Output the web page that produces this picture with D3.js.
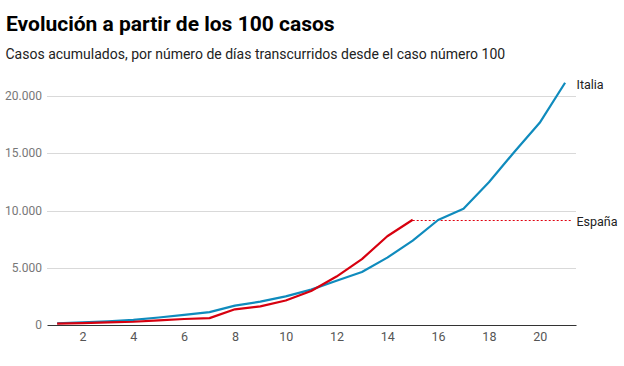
<!DOCTYPE html>
<html>
<head>
<meta charset="utf-8">
<script src="https://cdn.jsdelivr.net/npm/d3@7"></script>
<style>
  body { margin: 0; background: #fff; font-family: Roboto, "Noto Sans", sans-serif; }
  svg { display: block; }
</style>
</head>
<body>
<div id="chart"></div>
<script>
// datos: casos acumulados por día desde el caso 100
const days = d3.range(1, 22);
const italia = [155, 229, 322, 453, 655, 888, 1128, 1694, 2036, 2502, 3089, 3858, 4636, 5883, 7375, 9172, 10149, 12462, 15113, 17660, 21157];
const espana = [120, 165, 228, 282, 401, 525, 600, 1370, 1622, 2140, 2965, 4231, 5753, 7753, 9191];
const xTicks = [2, 4, 6, 8, 10, 12, 14, 16, 18, 20];
const yTicks = [0, 5000, 10000, 15000, 20000];

const W = 624, H = 366;
const fmt = d => d3.format(",")(d).replace(/,/g, ".");

const svg = d3.select('#chart').append('svg')
  .attr('width', W).attr('height', H);

// título y subtítulo
svg.append('text')
  .attr('x', 6).attr('y', 31)
  .attr('font-size', 21).attr('font-weight', 700)
  .attr('fill', '#000')
  .text('Evolución a partir de los 100 casos');

svg.append('text')
  .attr('x', 5.5).attr('y', 59)
  .attr('font-size', 14)
  .attr('fill', '#222')
  .text('Casos acumulados, por número de días transcurridos desde el caso número 100');

const x = d3.scaleLinear().domain([0.6, 21.43]).range([47, 576]);
const y = d3.scaleLinear().domain([0, 20000]).range([325, 96]);

// rejilla horizontal
svg.append('g')
  .selectAll('line')
  .data(yTicks.filter(d => d > 0))
  .join('line')
  .attr('x1', 47).attr('x2', 576)
  .attr('y1', d => Math.round(y(d)) + 0.5).attr('y2', d => Math.round(y(d)) + 0.5)
  .attr('stroke', '#d9d9d9').attr('stroke-width', 1);

// etiquetas eje y
svg.append('g')
  .selectAll('text')
  .data(yTicks)
  .join('text')
  .attr('x', 42).attr('y', d => y(d))
  .attr('dy', '0.35em')
  .attr('text-anchor', 'end')
  .attr('font-size', 12)
  .attr('fill', '#777')
  .text(fmt);

// eje x
const xAxis = svg.append('g')
  .attr('transform', `translate(0,${y(0)})`)
  .call(d3.axisBottom(x).tickValues(xTicks).tickSize(0).tickPadding(7));
xAxis.select('.domain').attr('stroke', '#333').attr('stroke-width', 1.2);
xAxis.selectAll('text')
  .attr('font-family', 'Roboto, sans-serif')
  .attr('font-size', 12.5)
  .attr('fill', '#555');

const line = d3.line()
  .x((d, i) => x(days[i]))
  .y(d => y(d));

// línea punteada de referencia para España
const lastEs = espana[espana.length - 1];
const yEs = Math.round(y(lastEs)) + 0.5;
svg.append('line')
  .attr('x1', x(espana.length)).attr('x2', 572)
  .attr('y1', yEs).attr('y2', yEs)
  .attr('stroke', '#e0000f').attr('stroke-width', 1)
  .attr('stroke-dasharray', '2 2');

svg.append('path')
  .datum(italia)
  .attr('d', line)
  .attr('fill', 'none')
  .attr('stroke', '#0f8bbd')
  .attr('stroke-width', 2.2)
  .attr('stroke-linejoin', 'round');

svg.append('path')
  .datum(espana)
  .attr('d', line)
  .attr('fill', 'none')
  .attr('stroke', '#d7000f')
  .attr('stroke-width', 2.2)
  .attr('stroke-linejoin', 'round');

// etiquetas de serie
svg.append('text')
  .attr('x', 576.5).attr('y', y(italia[italia.length - 1]) + 1.5)
  .attr('dy', '0.35em')
  .attr('font-size', 12.5).attr('fill', '#222')
  .text('Italia');

svg.append('text')
  .attr('x', 576.5).attr('y', y(lastEs) + 2)
  .attr('dy', '0.35em')
  .attr('font-size', 12.5).attr('fill', '#222')
  .text('España');
</script>
</body>
</html>
